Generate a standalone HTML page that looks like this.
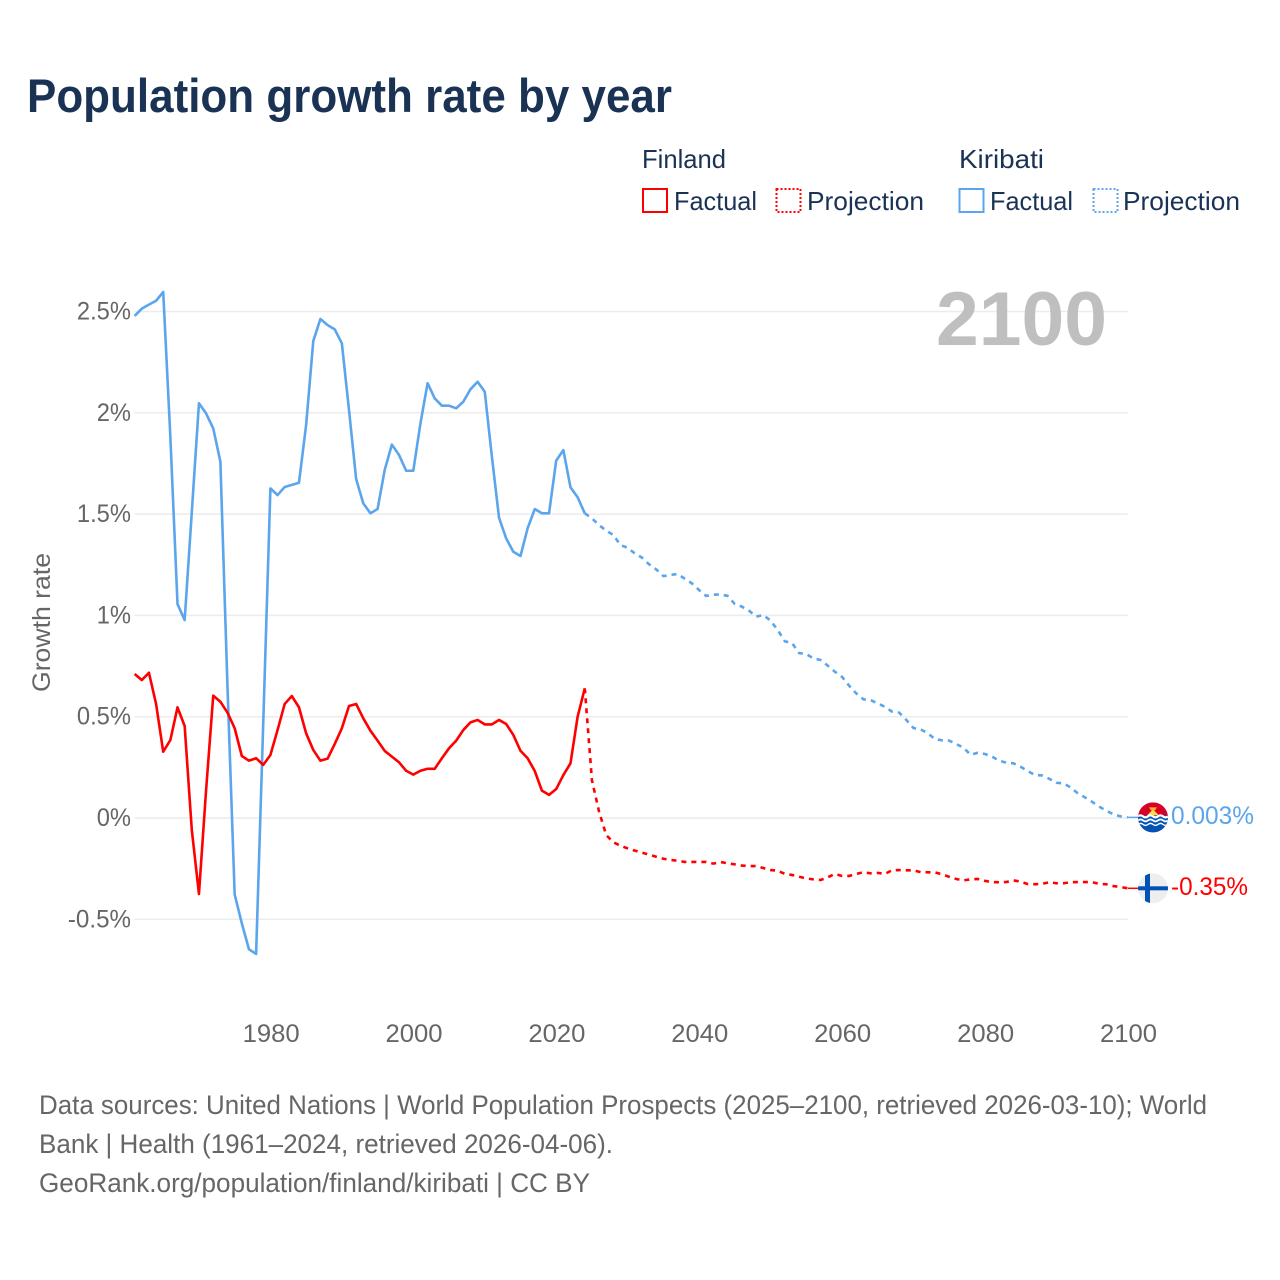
<!DOCTYPE html>
<html lang="en">
<head>
<meta charset="utf-8">
<title>Population growth rate by year</title>
<style>
html,body{margin:0;padding:0;background:#fff}
svg{display:block}
text{font-family:"Liberation Sans",sans-serif}
</style>
</head>
<body>
<svg id="chart" xmlns="http://www.w3.org/2000/svg" width="1280" height="1280" viewBox="0 0 1280 1280">
  <rect x="0" y="0" width="1280" height="1280" fill="#fff"/>
  <text x="27" y="112" font-size="47" font-weight="700" fill="#1a3355" textLength="645" lengthAdjust="spacingAndGlyphs">Population growth rate by year</text>

  <g fill="#1a3355" font-size="26">
    <text x="642" y="168" textLength="84" lengthAdjust="spacingAndGlyphs">Finland</text>
    <text x="959" y="168" textLength="85" lengthAdjust="spacingAndGlyphs">Kiribati</text>
    <rect x="643" y="189" width="24" height="23" fill="none" stroke="#ff0000" stroke-width="2"/>
    <text x="674" y="210" textLength="83" lengthAdjust="spacingAndGlyphs">Factual</text>
    <rect x="776.5" y="189" width="24" height="23" fill="none" stroke="#ff0000" stroke-width="2" stroke-dasharray="2 2"/>
    <text x="807" y="210" textLength="117" lengthAdjust="spacingAndGlyphs">Projection</text>
    <rect x="959.5" y="189" width="24" height="23" fill="none" stroke="#5aa5ec" stroke-width="2"/>
    <text x="990" y="210" textLength="83" lengthAdjust="spacingAndGlyphs">Factual</text>
    <rect x="1093.5" y="189" width="24" height="23" fill="none" stroke="#5aa5ec" stroke-width="2" stroke-dasharray="2 2"/>
    <text x="1123" y="210" textLength="117" lengthAdjust="spacingAndGlyphs">Projection</text>
  </g>

  <g id="grid"></g>
  <g id="yticks"></g>
  <g id="xticks"></g>

  <text transform="translate(50 692) rotate(-90)" font-size="25" fill="#666" textLength="139" lengthAdjust="spacingAndGlyphs">Growth rate</text>

  <text x="1107" y="345" text-anchor="end" font-size="76" font-weight="700" fill="#bfbfbf" textLength="171" lengthAdjust="spacingAndGlyphs">2100</text>

  <g id="series" fill="none"></g>

  <defs>
    <clipPath id="flag-clip"><circle cx="0" cy="0" r="15"/></clipPath>
  </defs>

  <g id="flag-kiribati" clip-path="url(#flag-clip)">
    <rect x="-15" y="-15" width="30" height="30" fill="#d80027"/>
    <path d="M-6 -2 L-3 -5 L0 -8 L3 -5 L6 -2 Z" fill="#ffda44"/>
    <path d="M-4 -10 L4 -10 L2 -7 L-2 -7 Z" fill="#ffb02e"/>
    <rect x="-15" y="-2" width="30" height="17" fill="#0052b4"/>
    <path d="M-15 -1 q2.5 -2 5 0 t5 0 t5 0 t5 0 t5 0 t5 0" stroke="#fff" stroke-width="2.2" fill="none"/>
    <path d="M-15 3 q2.5 -2 5 0 t5 0 t5 0 t5 0 t5 0 t5 0" stroke="#fff" stroke-width="1.8" fill="none"/>
    <path d="M-15 7 q2.5 -2 5 0 t5 0 t5 0 t5 0 t5 0 t5 0" stroke="#fff" stroke-width="1.4" fill="none"/>
  </g>
  <g id="flag-finland" clip-path="url(#flag-clip)">
    <rect x="-15" y="-15" width="30" height="30" fill="#eeeeee"/>
    <rect x="-8" y="-15" width="5" height="30" fill="#0052b4"/>
    <rect x="-15" y="-2" width="30" height="4" fill="#0052b4"/>
  </g>

  <g font-size="27" fill="#666">
    <text x="39" y="1114" textLength="1168" lengthAdjust="spacingAndGlyphs">Data sources: United Nations | World Population Prospects (2025–2100, retrieved 2026-03-10); World</text>
    <text x="39" y="1153" textLength="574" lengthAdjust="spacingAndGlyphs">Bank | Health (1961–2024, retrieved 2026-04-06).</text>
    <text x="39" y="1192" textLength="551" lengthAdjust="spacingAndGlyphs">GeoRank.org/population/finland/kiribati | CC BY</text>
  </g>
</svg>
<script>
const yTickValues = [-0.5, 0, 0.5, 1, 1.5, 2, 2.5];
const yTickLabels = ["-0.5%", "0%", "0.5%", "1%", "1.5%", "2%", "2.5%"];
const xTickYears = [1980, 2000, 2020, 2040, 2060, 2080, 2100];
const factualStartYear = 1961;
const projectionStartYear = 2024;
const finlandEndLabel = "-0.35%";
const kiribatiEndLabel = "0.003%";

const finlandFactual = [
  0.711, 0.681, 0.717, 0.563, 0.327, 0.385, 0.546, 0.454, -0.059, -0.375,
  0.138, 0.604, 0.574, 0.52, 0.443, 0.306, 0.283, 0.295, 0.262, 0.311,
  0.434, 0.563, 0.602, 0.546, 0.418, 0.336, 0.283, 0.293, 0.365, 0.443,
  0.553, 0.563, 0.492, 0.431, 0.382, 0.331, 0.303, 0.275, 0.233, 0.214,
  0.233, 0.243, 0.243, 0.295, 0.344, 0.382, 0.434, 0.472, 0.484, 0.462,
  0.462, 0.484, 0.464, 0.41, 0.332, 0.295, 0.232, 0.135, 0.114, 0.143,
  0.212, 0.27, 0.5, 0.64
];
const finlandProjection = [
  0.64, 0.187, 0.031, -0.084, -0.12, -0.137, -0.15, -0.161, -0.171, -0.181,
  -0.191, -0.201, -0.207, -0.211, -0.217, -0.217, -0.217, -0.217, -0.225, -0.217,
  -0.224, -0.229, -0.235, -0.237, -0.237, -0.247, -0.257, -0.26, -0.276, -0.281,
  -0.29, -0.298, -0.303, -0.306, -0.293, -0.276, -0.286, -0.286, -0.276, -0.268,
  -0.273, -0.271, -0.276, -0.258, -0.257, -0.258, -0.258, -0.267, -0.268, -0.268,
  -0.278, -0.29, -0.301, -0.308, -0.303, -0.301, -0.31, -0.317, -0.317, -0.316,
  -0.308, -0.314, -0.326, -0.327, -0.325, -0.317, -0.322, -0.322, -0.317, -0.316,
  -0.316, -0.317, -0.325, -0.327, -0.336, -0.341, -0.347
];
const kiribatiFactual = [
  2.478, 2.514, 2.534, 2.553, 2.596, 1.88, 1.056, 0.977, 1.51, 2.047,
  1.997, 1.923, 1.759, 0.64, -0.377, -0.52, -0.648, -0.671, 0.47, 1.627,
  1.594, 1.634, 1.644, 1.655, 1.94, 2.354, 2.463, 2.433, 2.412, 2.343,
  2.014, 1.673, 1.553, 1.504, 1.525, 1.718, 1.843, 1.792, 1.714, 1.714,
  1.948, 2.146, 2.071, 2.035, 2.035, 2.022, 2.055, 2.116, 2.153, 2.104,
  1.783, 1.482, 1.38, 1.314, 1.293, 1.43, 1.525, 1.504, 1.504, 1.764,
  1.816, 1.632, 1.583, 1.504
];
const kiribatiProjection = [
  1.504, 1.479, 1.446, 1.418, 1.397, 1.347, 1.334, 1.306, 1.285, 1.252,
  1.227, 1.194, 1.2, 1.204, 1.181, 1.158, 1.125, 1.096, 1.102, 1.104,
  1.096, 1.056, 1.043, 1.023, 0.994, 1.002, 0.974, 0.928, 0.872, 0.864,
  0.814, 0.809, 0.788, 0.78, 0.752, 0.722, 0.697, 0.653, 0.615, 0.586,
  0.582, 0.566, 0.549, 0.525, 0.52, 0.484, 0.444, 0.438, 0.418, 0.39,
  0.383, 0.382, 0.365, 0.347, 0.312, 0.322, 0.316, 0.303, 0.283, 0.273,
  0.27, 0.253, 0.232, 0.212, 0.21, 0.194, 0.174, 0.171, 0.151, 0.122,
  0.102, 0.08, 0.056, 0.036, 0.018, 0.008, 0.003
];

const SVG_NS = "http://www.w3.org/2000/svg";
const RED = "#ff0000";
const BLUE = "#5aa5ec";

function xScale(year) { return 270.4 + (year - 1980) * 7.145; }
function yScale(value) { return 818 - value * 202.6; }

/* approximate rendered width of the tick text, so labels line up with the axis */
function tickTextWidth(label) {
  let w = 0;
  for (const ch of label) {
    if (ch === "%") w += 20;
    else if (ch === ".") w += 5.5;
    else if (ch === "-") w += 9;
    else w += 14.3;
  }
  return w;
}

function pathFrom(values, startYear) {
  return values.map(function (v, i) {
    return (i ? "L" : "M") + xScale(startYear + i).toFixed(2) + " " + yScale(v).toFixed(2);
  }).join(" ");
}

const gridGroup = document.getElementById("grid");
const yTickGroup = document.getElementById("yticks");
const xTickGroup = document.getElementById("xticks");
const seriesGroup = document.getElementById("series");
const chartSvg = document.getElementById("chart");

yTickValues.forEach(function (v, i) {
  const line = document.createElementNS(SVG_NS, "line");
  
  
  line.setAttribute("x1", xScale(factualStartYear));
  line.setAttribute("x2", xScale(2100));
  line.setAttribute("y1", yScale(v));
  line.setAttribute("y2", yScale(v));
  line.setAttribute("stroke", "#ececec");
  line.setAttribute("stroke-width", "1.5");
  gridGroup.appendChild(line);

  const label = document.createElementNS(SVG_NS, "text");
  
  
  label.setAttribute("x", 131);
  label.setAttribute("y", yScale(v) + 8);
  label.setAttribute("text-anchor", "end");
  label.setAttribute("font-size", "25");
  label.setAttribute("fill", "#666");
  label.setAttribute("textLength", tickTextWidth(yTickLabels[i]));
  label.setAttribute("lengthAdjust", "spacingAndGlyphs");
  label.textContent = yTickLabels[i];
  yTickGroup.appendChild(label);
});

xTickYears.forEach(function (year) {
  const label = document.createElementNS(SVG_NS, "text");
  
  
  label.setAttribute("x", xScale(year) + 0.7);
  label.setAttribute("y", 1042);
  label.setAttribute("text-anchor", "middle");
  label.setAttribute("font-size", "25");
  label.setAttribute("fill", "#666");
  label.setAttribute("textLength", 57);
  label.setAttribute("lengthAdjust", "spacingAndGlyphs");
  label.textContent = String(year);
  xTickGroup.appendChild(label);
});

function addSeries(values, startYear, color, dashed, name) {
  const path = document.createElementNS(SVG_NS, "path");
  
  
  path.setAttribute("d", pathFrom(values, startYear));
  path.setAttribute("stroke", color);
  path.setAttribute("stroke-width", "2.6");
  path.setAttribute("stroke-linejoin", "round");
  if (dashed) path.setAttribute("stroke-dasharray", "5 5");
  seriesGroup.appendChild(path);
}

addSeries(kiribatiFactual, factualStartYear, BLUE, false, "kiribati-factual-line");
addSeries(kiribatiProjection, projectionStartYear, BLUE, true, "kiribati-projection-line");
addSeries(finlandFactual, factualStartYear, RED, false, "finland-factual-line");
addSeries(finlandProjection, projectionStartYear, RED, true, "finland-projection-line");

function addEndMarker(values, color, flagId, text, labelWidth, leaderName, labelName) {
  const endY = yScale(values[values.length - 1]);
  const leader = document.createElementNS(SVG_NS, "line");
  
  
  leader.setAttribute("x1", xScale(2100));
  leader.setAttribute("x2", 1140);
  leader.setAttribute("y1", endY);
  leader.setAttribute("y2", endY);
  leader.setAttribute("stroke", color);
  leader.setAttribute("stroke-width", "1.5");
  seriesGroup.appendChild(leader);

  document.getElementById(flagId).setAttribute("transform", "translate(1153 " + endY.toFixed(2) + ")");

  const label = document.createElementNS(SVG_NS, "text");
  
  
  label.setAttribute("x", 1171);
  label.setAttribute("y", endY + 6.5);
  label.setAttribute("font-size", "25");
  label.setAttribute("fill", color);
  label.setAttribute("textLength", labelWidth);
  label.setAttribute("lengthAdjust", "spacingAndGlyphs");
  label.textContent = text;
  chartSvg.appendChild(label);
}

addEndMarker(kiribatiProjection, BLUE, "flag-kiribati", kiribatiEndLabel, 83, "kiribati-leader-line", "kiribati-end-value");
addEndMarker(finlandProjection, RED, "flag-finland", finlandEndLabel, 77, "finland-leader-line", "finland-end-value");
</script>
</body>
</html>
